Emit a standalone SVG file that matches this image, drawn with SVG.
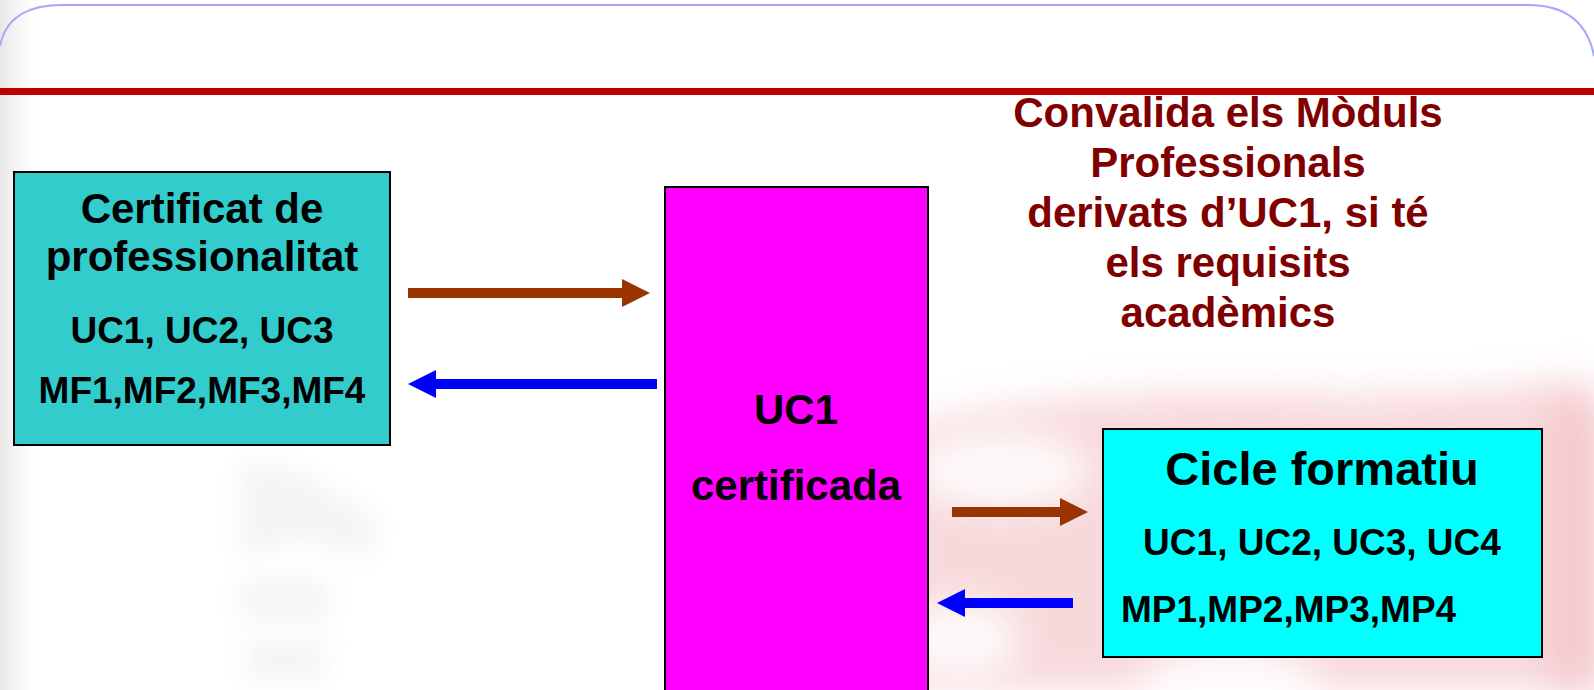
<svg xmlns="http://www.w3.org/2000/svg" width="1594" height="690" viewBox="0 0 1594 690">
  <style>
    .t { font-family: "Liberation Sans", Arial, sans-serif; font-weight: bold; fill: #000; }
    .c { text-anchor: middle; }
    .red { fill: #800000; }
    .box { stroke: #000; stroke-width: 2; }
    .shaft { fill: none; stroke-width: 10; }
  </style>
  <defs>
    <filter id="blur" x="-50%" y="-50%" width="200%" height="200%">
      <feGaussianBlur stdDeviation="18"/>
    </filter>
    <filter id="blur2" x="-50%" y="-50%" width="200%" height="200%">
      <feGaussianBlur stdDeviation="12"/>
    </filter>
    <linearGradient id="edge" x1="0" y1="0" x2="1" y2="0">
      <stop offset="0" stop-color="#e6e6e6"/>
      <stop offset="1" stop-color="#ffffff" stop-opacity="0"/>
    </linearGradient>
    <marker id="hBrown" markerUnits="userSpaceOnUse" markerWidth="28" markerHeight="28" refX="0" refY="14" orient="auto">
      <path d="M0,0 L28,14 L0,28 z" fill="#993300"/>
    </marker>
    <marker id="hBlue" markerUnits="userSpaceOnUse" markerWidth="28" markerHeight="28" refX="0" refY="14" orient="auto">
      <path d="M0,0 L28,14 L0,28 z" fill="#0000FF"/>
    </marker>
  </defs>

  <!-- background -->
  <rect x="0" y="0" width="1594" height="690" fill="#ffffff"/>
  <rect x="0" y="0" width="45" height="690" fill="url(#edge)"/>
  <g id="background-watermark">
    <g filter="url(#blur)" fill="#f4c9cd" opacity="0.7">
      <path d="M900,430 C1000,400 1150,390 1300,395 C1450,400 1560,380 1594,380 L1594,690 L900,690 Z"/>
    </g>
    <g filter="url(#blur)" fill="#f0b8be" opacity="0.5">
      <rect x="1550" y="400" width="60" height="290"/>
    </g>
    <g filter="url(#blur)" fill="#ffffff" opacity="0.85">
      <ellipse cx="1000" cy="470" rx="90" ry="40"/>
      <ellipse cx="1230" cy="690" rx="90" ry="45"/>
      <ellipse cx="960" cy="640" rx="60" ry="40"/>
    </g>
    <g filter="url(#blur2)" fill="#f2f2f2" opacity="0.8">
      <path d="M240,460 L300,470 L380,520 L370,560 L300,540 L240,560 Z"/>
      <rect x="240" y="580" width="90" height="40"/>
      <rect x="245" y="640" width="80" height="40"/>
    </g>
  </g>

  <!-- header -->
  <path d="M0,46 Q8,5 62,5 L1528,5 Q1584,5 1594,56" fill="none" stroke="#a6a6ff" stroke-width="2"/>
  <rect x="0" y="88" width="1594" height="7" fill="#c00000"/>

  <!-- connectors -->
  <g id="connectors">
    <line class="shaft" x1="408" y1="293" x2="622" y2="293" stroke="#993300" marker-end="url(#hBrown)"/>
    <line class="shaft" x1="657" y1="384" x2="436" y2="384" stroke="#0000FF" marker-end="url(#hBlue)"/>
    <line class="shaft" x1="952" y1="512" x2="1060" y2="512" stroke="#993300" marker-end="url(#hBrown)"/>
    <line class="shaft" x1="1073" y1="603" x2="965" y2="603" stroke="#0000FF" marker-end="url(#hBlue)"/>
  </g>

  <!-- nodes -->
  <g id="node-certificat">
    <rect class="box" x="14" y="172" width="376" height="273" fill="#33CCCC"/>
    <text class="t c" x="202" y="223" font-size="42">Certificat de</text>
    <text class="t c" x="202" y="271" font-size="42">professionalitat</text>
    <text class="t c" x="202" y="343" font-size="37">UC1, UC2, UC3</text>
    <text class="t c" x="202" y="403" font-size="37">MF1,MF2,MF3,MF4</text>
  </g>

  <g id="node-uc1">
    <rect class="box" x="665" y="187" width="263" height="530" fill="#FF00FF"/>
    <text class="t c" x="796" y="424" font-size="42">UC1</text>
    <text class="t c" x="796" y="500" font-size="42">certificada</text>
  </g>

  <g id="node-cicle">
    <rect class="box" x="1103" y="429" width="439" height="228" fill="#00FFFF"/>
    <text class="t c" x="1322" y="485" font-size="47">Cicle formatiu</text>
    <text class="t c" x="1322" y="555" font-size="37">UC1, UC2, UC3, UC4</text>
    <text class="t" x="1121" y="622" font-size="37">MP1,MP2,MP3,MP4</text>
  </g>

  <g id="note-convalida">
    <text class="t c red" x="1228" y="127" font-size="42">Convalida els Mòduls</text>
    <text class="t c red" x="1228" y="177" font-size="42">Professionals</text>
    <text class="t c red" x="1228" y="227" font-size="42">derivats d’UC1, si té</text>
    <text class="t c red" x="1228" y="277" font-size="42">els requisits</text>
    <text class="t c red" x="1228" y="327" font-size="42">acadèmics</text>
  </g>
</svg>
